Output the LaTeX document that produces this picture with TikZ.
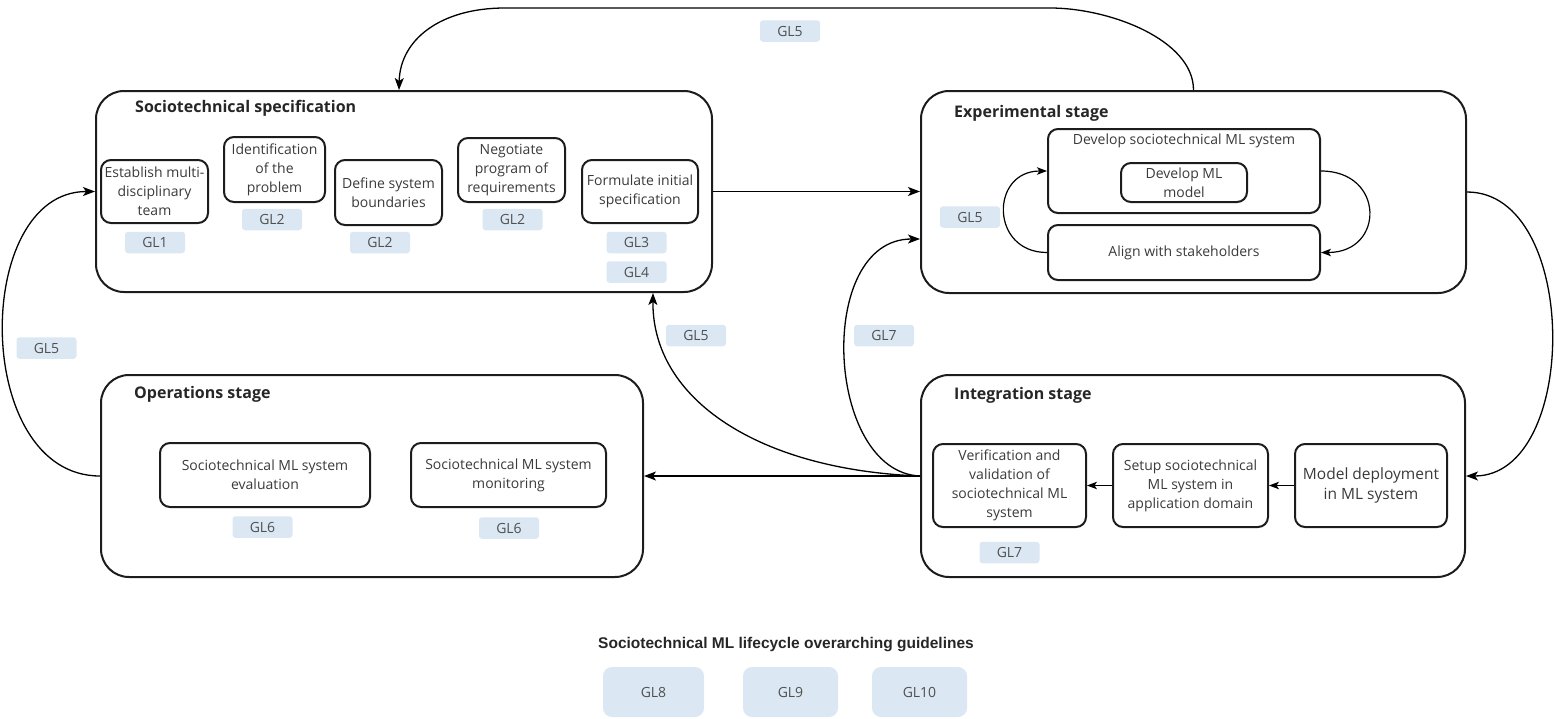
\documentclass[tikz,border=0pt]{standalone}
\usepackage{fontspec}
\setmainfont{Open Sans}
\newfontfamily\arialf{Liberation Sans}
\usetikzlibrary{arrows.meta,calc}
\definecolor{glfill}{RGB}{219,231,242}
\definecolor{txt}{RGB}{58,58,58}
\definecolor{glt}{RGB}{80,80,80}
\definecolor{edge}{RGB}{28,28,28}
\begin{document}
\begin{tikzpicture}[x=1pt,y=-1pt,
  font=\fontsize{14}{19}\selectfont, text=txt,
  outer/.style={draw=edge, line width=2pt, rounded corners=28pt, inner sep=0pt},
  inbox/.style={draw=edge, line width=2pt, rounded corners=10pt, inner sep=0pt, align=center},
  gl/.style={fill=glfill, rounded corners=3pt, minimum width=60pt, minimum height=21.5pt, inner sep=0pt, text=glt},
  glbig/.style={fill=glfill, rounded corners=9pt, minimum height=50pt, inner sep=0pt, text=glt},
  ttl/.style={font=\fontsize{16}{19}\selectfont\bfseries, anchor=west, inner sep=0pt, text=black!85},
  conn/.style={draw=black, line width=1.3pt, -{Stealth[length=12pt,width=9pt,inset=3pt]}},
  sconn/.style={draw=black, line width=1.2pt, -{Stealth[length=10pt,width=7.5pt,inset=2.5pt]}}
]
\useasboundingbox (0,0) rectangle (1555,718);

% ---------- outer stage boxes ----------
\node[outer, minimum width=616pt, minimum height=201pt] (spec) at (404,191.5) {};
\node[outer, minimum width=545pt, minimum height=202pt] (exp) at (1193.5,192) {};
\node[outer, minimum width=544pt, minimum height=202pt] (integ) at (1193,476) {};
\node[outer, minimum width=542pt, minimum height=202pt] (ops) at (372,476) {};

\node[ttl] (spect) at (135,108) {Sociotechnical specification};
\node[ttl] (expt) at (954,113) {Experimental stage};
\node[ttl] (integt) at (954,395) {Integration stage};
\node[ttl] (opst) at (134,394) {Operations stage};

% ---------- specification ----------
\node[inbox, minimum width=107pt, minimum height=63pt] (b1) at (154.5,191.5) {Establish multi-\\disciplinary\\team};
\node[inbox, minimum width=101pt, minimum height=65pt] (b2) at (274.5,169.5) {Identification\\of the\\problem};
\node[inbox, minimum width=107pt, minimum height=65pt] (b3) at (388.5,192.5) {Define system\\boundaries};
\node[inbox, minimum width=107pt, minimum height=64pt] (b4) at (511.5,170) {Negotiate\\program of\\requirements};
\node[inbox, minimum width=116pt, minimum height=63pt] (b5) at (640,191.5) {Formulate initial\\specification};

\node[gl] (g1) at (155,242.5) {GL1};
\node[gl] (g2a) at (272,219.5) {GL2};
\node[gl] (g2b) at (380,242.5) {GL2};
\node[gl] (g2c) at (512.5,219.5) {GL2};
\node[gl] (g3) at (636.5,242.5) {GL3};
\node[gl] (g4) at (636.5,272) {GL4};

% ---------- experimental ----------
\node[inbox, minimum width=272pt, minimum height=84pt] (devsys) at (1184,171) {};
\node[inner sep=0pt] (devsyst) at (1184,141) {Develop sociotechnical ML system};
\node[inbox, minimum width=126pt, minimum height=39pt] (devml) at (1184,182.5) {Develop ML\\model};
\node[inbox, minimum width=272pt, minimum height=55pt] (align) at (1184,252.5) {Align with stakeholders};
\node[gl] (g5e) at (970,217) {GL5};

\draw[sconn] (align.west) .. controls (990,252.5) and (990,171) .. (devsys.west);
\draw[sconn] (devsys.east) .. controls (1385,171) and (1385,252.5) .. (align.east);

% ---------- integration ----------
\node[inbox, minimum width=153pt, minimum height=83pt] (verif) at (1009.5,485.5) {Verification and\\validation of\\sociotechnical ML\\system};
\node[inbox, minimum width=155pt, minimum height=83pt] (setup) at (1190.5,485.5) {Setup sociotechnical\\ML system in\\application domain};
\node[inbox, minimum width=152pt, minimum height=83pt, font=\fontsize{15.5}{20}\selectfont] (model) at (1371,485.5) {Model deployment\\in ML system};
\node[gl] (g7i) at (1009.5,552.5) {GL7};

\draw[sconn] (model.west) -- (setup.east);
\draw[sconn] (setup.west) -- (verif.east);

% ---------- operations ----------
\node[inbox, minimum width=210pt, minimum height=64pt] (eval) at (265,475) {Sociotechnical ML system\\evaluation};
\node[inbox, minimum width=195pt, minimum height=64pt] (mon) at (508.5,475) {Sociotechnical ML system\\monitoring};
\node[gl] (g6a) at (262.5,527) {GL6};
\node[gl] (g6b) at (509,528) {GL6};

% ---------- connector labels ----------
\node[gl] (g5top) at (790,31) {GL5};
\node[gl] (g5left) at (46.5,348) {GL5};
\node[gl] (g5mid) at (696,335.5) {GL5};
\node[gl] (g7mid) at (884,335.5) {GL7};

% ---------- connectors ----------
\draw[conn] (spec.east) -- (spec.east -| exp.west);
\draw[conn] (exp.east) .. controls (1580,192) and (1580,476) .. (integ.east);
\draw[conn] (integ.west) -- (ops.east);
\draw[conn] (integ.west) .. controls (760,470) and (652,400) .. ($(spec.south east)+(-60,0)$);
\draw[conn] (integ.west) .. controls (825,472) and (815,239) .. ($(exp.west)+(0,47)$);
\draw[conn] (ops.west) .. controls (-28,476) and (-28,191.5) .. (spec.west);
\draw[conn] (exp.north) .. controls (1193.5,40) and (1110,8) .. (1050,8) -- (505,8) .. controls (440,8) and (400,40) .. ($(spec.north west)+(304,0)$);

% ---------- overarching guidelines ----------
\node[font=\arialf\fontsize{15.5}{18}\selectfont\bfseries, text=black!85] (ovt) at (786,645) {Sociotechnical ML lifecycle overarching guidelines};
\node[glbig, minimum width=101pt] (gl8) at (653.5,692) {GL8};
\node[glbig, minimum width=95pt] (gl9) at (790.5,692) {GL9};
\node[glbig, minimum width=95pt] (gl10) at (919.5,692) {GL10};
\end{tikzpicture}
\end{document}
